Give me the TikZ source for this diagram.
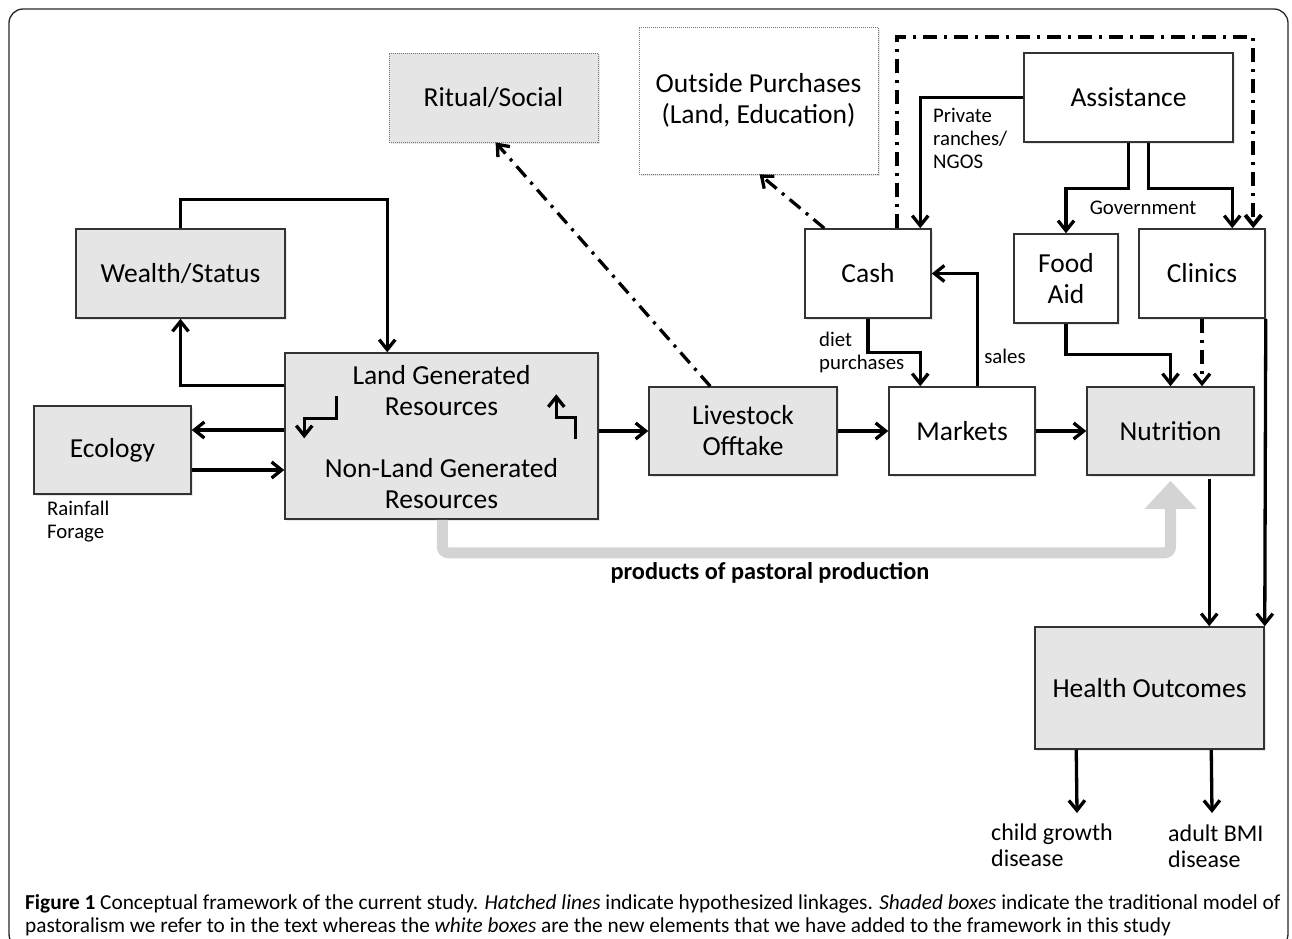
\documentclass[tikz,border=0pt]{standalone}
\usepackage{fontspec}
\setmainfont{Carlito}
\usetikzlibrary{arrows.meta,calc,shadows}

\tikzset{
  box/.style={draw=black!80, line width=1.5pt, inner sep=0pt, align=center,
    font=\fontsize{27.5}{31}\selectfont,
    drop shadow={opacity=0.18, shadow xshift=2pt, shadow yshift=-2pt}},
  shaded/.style={box, fill=black!10},
  plain/.style={box, fill=white},
  maybe/.style={box, draw=black!55, line width=0.8pt, dash pattern=on 1pt off 1pt},
  boxtext/.style={inner sep=0pt, align=center, font=\fontsize{27.5}{31}\selectfont},
  small/.style={inner sep=0pt, align=left, font=\fontsize{20.8}{23}\selectfont},
  outcome/.style={inner sep=0pt, align=left, font=\fontsize{24}{26}\selectfont},
  link/.style={line width=3.3pt, -{Straight Barb[length=10pt,width=16pt]}},
  hypo/.style={link, dash pattern=on 14pt off 7pt on 3pt off 7pt},
  prod/.style={line width=11pt, draw=black!17, rounded corners=6pt,
    -{Triangle[length=28pt,width=50pt]}},
}

\begin{document}
\begin{tikzpicture}[x=1pt,y=-1pt]
  \useasboundingbox (0,0) rectangle (1292,938);
  \draw[black!85, line width=1.3pt, rounded corners=14pt] (9,9) rectangle (1288,948);

  % traditional model
  \node[shaded, minimum width=209pt, minimum height=89pt] (wealth) at (180.5,273.5) {Wealth/Status};
  \node[shaded, minimum width=313pt, minimum height=166pt] (land) at (441.5,436) {};
  \node[boxtext] (landtop) at (441.5,391) {Land Generated\\Resources};
  \node[boxtext] (landbot) at (441.5,484) {Non-Land Generated\\Resources};
  \node[shaded, minimum width=157pt, minimum height=88pt] (ecology) at (112.5,450) {Ecology};
  \node[shaded, minimum width=188pt, minimum height=88pt] (offtake) at (743,431) {Livestock\\Offtake};
  \node[shaded, minimum width=167pt, minimum height=88pt] (nutrition) at (1170.5,431) {Nutrition};
  \node[shaded, minimum width=229pt, minimum height=122pt] (health) at (1149.5,688) {Health Outcomes};
  \node[maybe, fill=black!10, minimum width=209pt, minimum height=89pt] (ritual) at (493.5,97.5) {Ritual/Social};

  % new elements
  \node[maybe, fill=white, minimum width=239pt, minimum height=147pt] (outside) at (758.5,100.5) {Outside Purchases\\(Land, Education)};
  \node[plain, minimum width=209pt, minimum height=89pt] (assist) at (1128.5,97.5) {Assistance};
  \node[plain, minimum width=126pt, minimum height=89pt] (cash) at (868,273.5) {Cash};
  \node[plain, minimum width=104pt, minimum height=89pt] (food) at (1066,278.5) {Food\\Aid};
  \node[plain, minimum width=126pt, minimum height=89pt] (clinics) at (1202,273.5) {Clinics};
  \node[plain, minimum width=146pt, minimum height=88pt] (markets) at (962,431) {Markets};

  % labels
  \node[small, anchor=north west] (forage) at (47,501) {Rainfall\\Forage};
  \node[small, anchor=north west] (private) at (933,108) {Private\\ranches/\\NGOS};
  \node[small, anchor=north west] (diet) at (819,332) {diet\\purchases};
  \node[small] (sales) at (1005,356) {sales};
  \node[small] (govt) at (1143,208) {Government};
  \node[outcome, anchor=north west] (child) at (991,824) {child growth\\disease};
  \node[outcome, anchor=north west] (adult) at (1168,825) {adult BMI\\disease};
  \node[inner sep=0pt, font=\fontsize{24.3}{28}\selectfont\bfseries] (prodlabel) at (770,573) {products of pastoral production};

  % products of pastoral production
  \draw[prod] ($(land.south west)+(158,0)$) -- ++(0,33) -| ([yshift=-5pt]nutrition.south);

  % solid links
  \draw[link] (wealth.north) -- ++(0,-29) -| ($(land.north west)+(103,0)$);
  \draw[link] ($(land.north west)+(0,33)$) -| (wealth.south);
  \draw[link] ([yshift=6pt]land.west) -- ([yshift=20pt]ecology.east);
  \draw[link] ([yshift=-20pt]ecology.east) -- ([yshift=-34pt]land.west);
  \draw[link] ($(land.north west)+(52,44)$) -- ++(0,22) -| ++(-32,20);
  \draw[link] ($(land.north west)+(291,87)$) -- ++(0,-22) -| ++(-19,-23);
  \draw[link] (land.east |- offtake.west) -- (offtake.west);
  \draw[link] (offtake.east) -- (markets.west);
  \draw[link] (markets.east) -- (nutrition.west);
  \draw[link] (cash.south) -- ++(0,34) -| ($(markets.north west)+(32,0)$);
  \draw[link] ($(markets.north west)+(89,0)$) |- (cash.east);
  \draw[link] (assist.west) -| ($(cash.north west)+(116,0)$);
  \draw[link] ($(assist.south west)+(105,0)$) -- ++(0,46) -| (food.north);
  \draw[link] ($(assist.south west)+(125,0)$) -- ++(0,46) -| ($(clinics.north west)+(94,0)$);
  \draw[link] (food.south) -- ++(0,31) -| (nutrition.north);
  \draw[link] ($(nutrition.south west)+(123,3)$) -- ($(health.north west)+(175,0)$);
  \draw[link] (clinics.south east) -- (health.north east);
  \draw[link] ($(health.south west)+(42,0)$) -- ($(child.north west)+(86,-11)$);
  \draw[link] ($(health.south west)+(177,0)$) -- ($(adult.north west)+(44,-12)$);

  % hypothesized links
  \draw[hypo] ($(offtake.north west)+(62,0)$) -- ($(ritual.south west)+(107,0)$);
  \draw[hypo] ($(cash.north west)+(20,0)$) -- ($(outside.south west)+(121,0)$);
  \draw[hypo, line width=4pt] ($(cash.north west)+(93,0)$) -- ++(0,-191) -| ($(clinics.north west)+(115,0)$);
  \draw[hypo] (clinics.south) -- (clinics.south |- nutrition.north);

  % caption
  \node[anchor=north west, inner sep=0pt, align=left, font=\fontsize{21.3}{23}\selectfont] (caption) at (25,894)
    {\textbf{Figure 1} Conceptual framework of the current study. \textit{Hatched lines} indicate hypothesized linkages. \textit{Shaded boxes} indicate the traditional model of\\
     pastoralism we refer to in the text whereas the \textit{white boxes} are the new elements that we have added to the framework in this study};
\end{tikzpicture}
\end{document}
